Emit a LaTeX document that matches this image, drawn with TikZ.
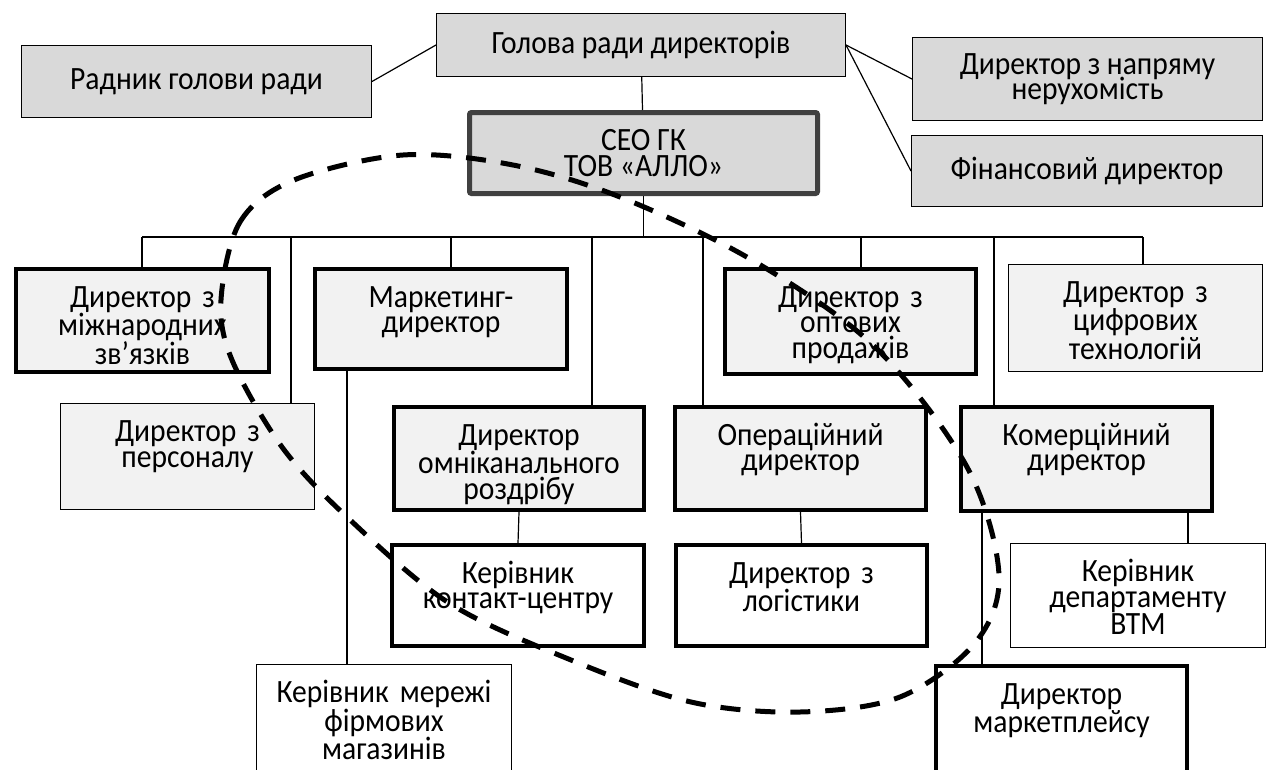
\documentclass[tikz,border=0pt]{standalone}
\usepackage{fontspec}
\setmainfont{Carlito}[FakeStretch=0.91]
\usepackage{tikz}

\definecolor{boardgray}{HTML}{D9D9D9}
\definecolor{unitgray}{HTML}{F2F2F2}
\definecolor{ceoframe}{HTML}{404040}

\begin{document}
\lineskiplimit=-100pt
\begin{tikzpicture}[x=1pt, y=-1pt, font=\fontsize{32.5}{25.5}\selectfont,
		card/.style={draw, line width=1pt, inner sep=0pt, anchor=north west, align=center},
		topcard/.style 2 args={card, fill=boardgray, minimum width=#1, minimum height=#2},
		unit/.style n args={3}{card, fill=#1, text width=#2, text height=38pt, text depth=#3},
		heavy/.style={line width=4pt},
		link/.style={line width=1.2pt},
		oval/.style={line width=5pt, dash pattern=on 20pt off 15pt}]
	\useasboundingbox (0,0) rectangle (1270,769);
	% ---------------- board ----------------
	\node[topcard={350pt}{72pt}] (radnyk) at (21,45) {Радник голови ради};
	\node[topcard={409pt}{63pt}] (holova) at (436,13) {Голова ради директорів};
	\node[topcard={350pt}{83pt}] (neruh) at (912,37) {Директор з напряму\\нерухомість};
	\node[topcard={351pt}{71pt}] (fin) at (911,135) {Фінансовий директор};
	\node[topcard={348pt}{81pt}, line width=5pt, draw=ceoframe, rounded corners=2pt] (ceo) at (467,110) {CEO ГК\\ТОВ «АЛЛО»};
	\draw[link] (radnyk.east) -- (holova.west);
	\draw[link] (holova.east) -- (neruh.west);
	\draw[link] (holova.east) -- (fin.west);
	\draw[link] (holova) -- (ceo);
	% ---------------- directors ----------------
	\node[unit={unitgray}{253pt}{65pt}, heavy] (mizh) at (14,267) {Директор з\\міжнародних\\зв’язків};
	\node[unit={unitgray}{252pt}{62pt}, heavy] (market) at (313,267) {Маркетинг-\\директор};
	\node[unit={unitgray}{251pt}{67pt}, heavy] (opt) at (723,267) {Директор з\\оптових\\продажів};
	\node[unit={unitgray}{254pt}{69pt}] (tsyfr) at (1008,264) {Директор з\\цифрових\\технологій};
	\node[unit={unitgray}{254pt}{68pt}] (pers) at (60,403) {Директор з\\персоналу};
	\node[unit={unitgray}{250pt}{65pt}, heavy] (omni) at (392,405) {Директор\\омніканального\\роздрібу};
	\node[unit={unitgray}{251pt}{65pt}, heavy] (oper) at (673,405) {Операційний\\директор};
	\node[unit={unitgray}{251pt}{66pt}, heavy] (komer) at (959,405) {Комерційний\\директор};
	% ---------------- heads ----------------
	\node[unit={white}{252pt}{63pt}, heavy] (kontakt) at (390,543) {Керівник\\контакт-центру};
	\node[unit={white}{251pt}{63pt}, heavy] (logist) at (674,543) {Директор з\\логістики};
	\node[unit={white}{255pt}{66pt}] (btm) at (1010,543) {Керівник\\департаменту\\ВТМ};
	\node[unit={white}{251pt}{80pt}, heavy] (mplace) at (934,664) {Директор\\маркетплейсу};
	\node[unit={white}{255pt}{80pt}] (merezh) at (256,664) {Керівник мережі\\фірмових\\магазинів};
	% bus under the CEO
	\coordinate (busL) at (142,237);
	\coordinate (busR) at (1143,237);
	\draw[link] (ceo.south) -- (ceo.south |- busL);
	\draw[link] (busL) -- (busR);
	\draw[link] (busL) -- (busL |- mizh.north);
	\draw[link] (busR) -- (busR |- tsyfr.north);
	\foreach \x/\b in {291/pers, 451/market, 592/omni, 703/oper, 861/opt, 994/komer} {
		\coordinate (drop) at (\x,237);
		\draw[link] (drop) -- (drop |- \b.north);
	}
	\coordinate (m1) at (347,0);
	\coordinate (k1) at (1188,0);
	\coordinate (k2) at (982,0);
	\draw[link] (m1 |- market.south) -- (m1 |- merezh.north);
	\draw[link] (omni.south) -- (kontakt.north);
	\draw[link] (oper.south) -- (logist.north);
	\draw[link] (k1 |- komer.south) -- (k1 |- btm.north);
	\draw[link] (k2 |- komer.south) -- (k2 |- mplace.north);
	% dashed ring
	\draw[oval] plot[smooth cycle, tension=0.55] coordinates {(221,300) (240,222) (294,180) (403,155) (513,165) (620,197) (752,260) (875,347) (967,467) (999,575) (975,643) (900,697) (800,712) (691,702) (571,660) (449,603) (347,517) (282,447) (232,360)};
\end{tikzpicture}
\end{document}
